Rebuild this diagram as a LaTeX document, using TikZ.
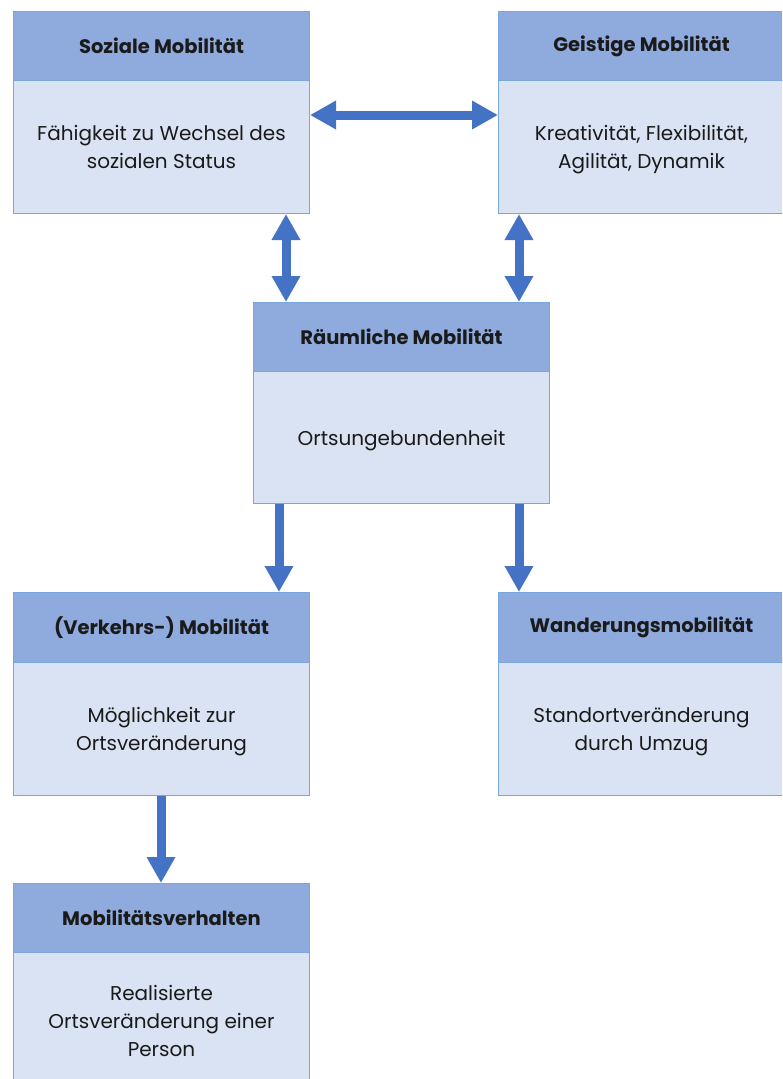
\documentclass[tikz,border=0pt]{standalone}
\usepackage{fontspec}
\setmainfont[Ligatures=NoCommon]{Poppins}
\usetikzlibrary{arrows.meta,calc}
\definecolor{hdr}{HTML}{8FAADC}
\definecolor{bdy}{HTML}{DAE3F3}
\definecolor{brd}{HTML}{7AA6DE}
\definecolor{arr}{HTML}{4472C4}
\definecolor{txt}{HTML}{1A1A1A}
\begin{document}
\begin{tikzpicture}[x=1pt,y=-1pt,
  hdrbox/.style={draw=brd,fill=hdr,line width=1pt,minimum height=69pt,inner sep=0pt,
    anchor=north west,text=txt,font=\bfseries\fontsize{19.5}{22}\selectfont},
  bodybox/.style={draw=brd,fill=bdy,line width=1pt,inner sep=0pt,anchor=north west,
    align=center,text=txt,font=\fontsize{20}{28}\selectfont,text depth=0pt},
  bigarrow/.style={draw=arr,line width=9pt,arrows={-Triangle[width=27pt,length=26pt]}},
  dblarrow/.style={draw=arr,line width=9pt,arrows={Triangle[width=27pt,length=26pt]-Triangle[width=27pt,length=26pt]}}]
\useasboundingbox (0,0) rectangle (782,1079);
\clip (0,0) rectangle (782,1079);
% Soziale Mobilitaet
\node[bodybox,minimum width=296pt,minimum height=133pt] (s1b) at (13,80) {Fähigkeit zu Wechsel des\\sozialen Status};
\node[hdrbox,minimum width=296pt] (s1h) at (13,11) {Soziale Mobilität};
% Geistige Mobilitaet
\node[bodybox,minimum width=286pt,minimum height=133pt] (g1b) at (498,80) {Kreativität, Flexibilität,\\Agilität, Dynamik};
\node[hdrbox,minimum width=286pt] (g1h) at (498,11) {Geistige Mobilität};
% Raeumliche Mobilitaet
\node[bodybox,minimum width=296pt,minimum height=132pt] (r1b) at (253,371) {Ortsungebundenheit};
\node[hdrbox,minimum width=296pt] (r1h) at (253,302) {Räumliche Mobilität};
% Verkehrs-Mobilitaet
\node[bodybox,minimum width=296pt,minimum height=133pt] (v1b) at (13,662) {Möglichkeit zur\\Ortsveränderung};
\node[hdrbox,minimum width=296pt,minimum height=70pt] (v1h) at (13,592) {(Verkehrs-) Mobilität};
% Wanderungsmobilitaet
\node[bodybox,minimum width=286pt,minimum height=133pt] (w1b) at (498,662) {Standortveränderung\\durch Umzug};
\node[hdrbox,minimum width=286pt,minimum height=70pt] (w1h) at (498,592) {Wanderungsmobilität};
% Mobilitaetsverhalten
\node[bodybox,minimum width=296pt,minimum height=136pt] (m1b) at (13,952) {Realisierte\\Ortsveränderung einer\\Person};
\node[hdrbox,minimum width=296pt] (m1h) at (13,883) {Mobilitätsverhalten};
% arrow positions
\coordinate (ay) at (0,115);
\coordinate (ax1) at (286,0);
\coordinate (ax2) at (519,0);
\coordinate (ax3) at (279,0);
\coordinate (ax4) at (519,0);
\coordinate (ax5) at (161,0);
% connectors
\draw[dblarrow] (s1b.east |- ay) -- (g1b.west |- ay);
\draw[dblarrow] (s1b.south -| ax1) -- (r1h.north -| ax1);
\draw[dblarrow] (g1b.south -| ax2) -- (r1h.north -| ax2);
\draw[bigarrow] (r1b.south -| ax3) -- (v1h.north -| ax3);
\draw[bigarrow] (r1b.south -| ax4) -- (w1h.north -| ax4);
\draw[bigarrow] (v1b.south -| ax5) -- (m1h.north -| ax5);
\end{tikzpicture}
\end{document}
